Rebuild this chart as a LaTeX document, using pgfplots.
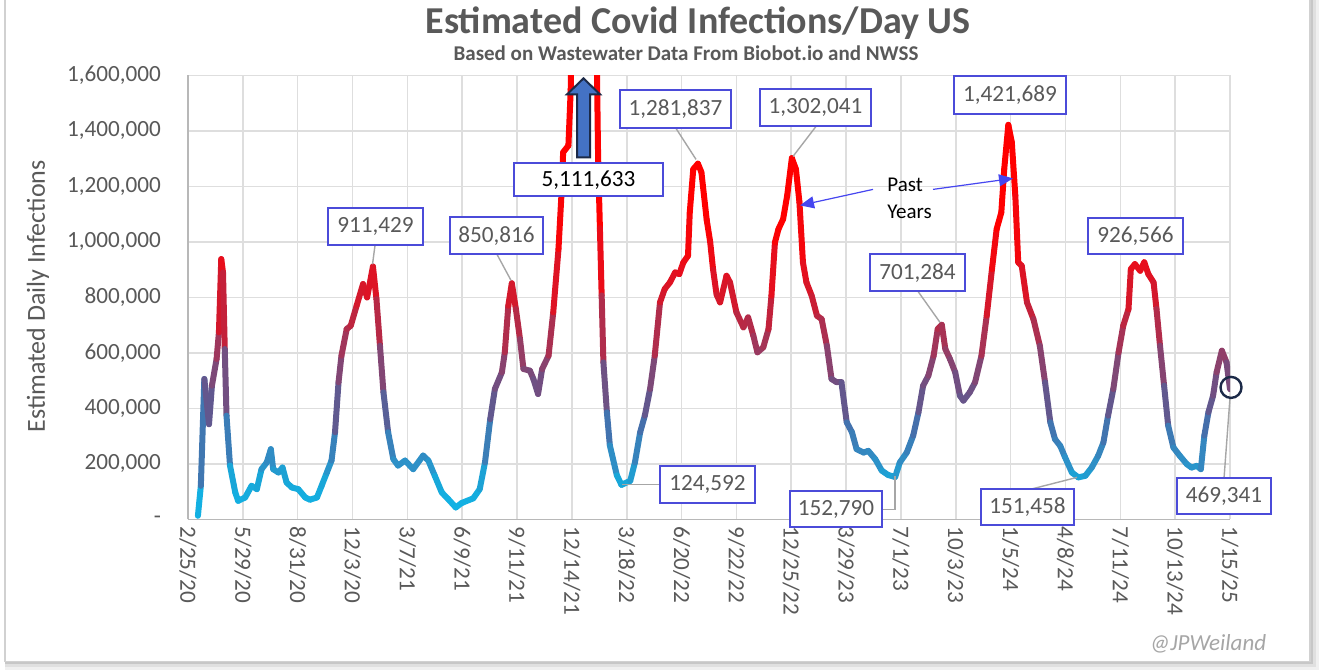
\documentclass[border=0pt]{standalone}
\usepackage{fontspec}
\setmainfont{Carlito}
\usepackage{pgfplots}
\usepackage{pgfplotstable}
\pgfplotsset{compat=1.18}
\usetikzlibrary{arrows.meta}
\definecolor{txt}{HTML}{595959}
\definecolor{boxblue}{HTML}{4B4BD9}
\definecolor{gridc}{HTML}{DEDEDE}
\definecolor{lead}{HTML}{A6A6A6}
\definecolor{arrblue}{HTML}{4646F0}
\definecolor{uparrow}{HTML}{4472C4}
\definecolor{navy}{HTML}{1C2A48}

\pgfplotstableread{
day val
17 13000
22 121000
28 506000
36 343000
41 482000
49 578000
53 674000
57 938000
60 890000
63 614000
66 374000
72 194000
81 97000
86 67000
98 79000
109 121000
118 109000
126 181000
135 205000
142 253000
146 181000
155 169000
162 187000
169 133000
178 115000
189 109000
201 79000
209 71000
221 79000
229 121000
238 169000
246 212000
252 314000
258 494000
263 590000
272 686000
279 698000
289 770000
300 848000
307 800000
317 911429
323 794000
329 626000
335 458000
343 314000
352 217000
360 194000
372 212000
386 181000
403 230000
412 212000
423 157000
435 97000
446 73000
459 43000
469 59000
489 76000
500 109000
509 205000
518 361000
526 470000
538 530000
543 602000
549 770000
555 850816
562 758000
569 650000
575 542000
586 536000
592 506000
600 452000
607 542000
618 590000
626 746000
635 974000
640 1167000
643 1323000
652 1347000
656 1550000
679 5111633
703 1290000
706 1050000
709 807000
712 566000
718 386000
723 267000
735 159000
743 124592
758 139000
766 205000
775 314000
783 374000
792 470000
800 590000
809 782000
817 830000
826 854000
835 890000
842 884000
849 926000
857 950000
860 1106000
866 1262000
874 1281837
880 1251000
889 1080000
895 1000000
900 900000
906 810000
912 782000
923 878000
929 854000
940 746000
952 692000
960 728000
969 662000
976 602000
986 620000
995 686000
1000 806000
1006 998000
1012 1046000
1020 1082000
1027 1167000
1035 1302041
1042 1262000
1048 1143000
1054 926000
1060 854000
1069 806000
1078 734000
1086 722000
1095 626000
1103 506000
1112 494000
1120 494000
1129 350000
1138 314000
1146 253000
1158 241000
1166 247000
1178 217000
1189 176000
1200 160000
1212 152790
1220 205000
1232 241000
1243 302000
1252 386000
1260 482000
1269 518000
1278 590000
1285 686000
1292 701284
1298 614000
1306 578000
1315 530000
1323 446000
1329 428000
1340 458000
1349 494000
1360 590000
1369 734000
1378 902000
1386 1046000
1394 1106000
1399 1262000
1406 1421689
1412 1359000
1418 1167000
1423 926000
1429 914000
1438 782000
1449 722000
1460 626000
1469 494000
1478 350000
1486 289000
1495 265000
1503 225000
1515 169000
1526 151458
1538 157000
1549 187000
1560 229000
1569 277000
1577 374000
1586 470000
1595 602000
1603 698000
1612 758000
1616 902000
1623 920000
1632 896000
1639 926566
1646 884000
1655 854000
1660 758000
1666 626000
1673 482000
1680 338000
1689 259000
1700 229000
1712 199000
1720 187000
1729 193000
1736 181000
1742 302000
1749 386000
1757 446000
1763 530000
1772 608000
1780 566000
1786 469341
}\covid

\newcommand{\callout}[6][txt]{%
  \draw[boxblue, line width=1pt, fill=white] (#2,#3) rectangle (#4,#5);
  \node[text=#1, font=\fontsize{11.6}{13}\selectfont, inner sep=0pt] at ({(#2+#4)/2},{(#3+#5)/2}) {#6};
}

\begin{document}
\begin{tikzpicture}
\begin{scope}[x=0.5pt,y=-0.5pt]
\useasboundingbox (0,0) rectangle (1320,670);
\fill[black!6] (5,-5) rectangle (1319,669);
\fill[black!12] (5,-5) rectangle (1316,666);
\fill[black!22] (5,-5) rectangle (1313,663);
\filldraw[fill=white, draw=black!18, line width=0.8pt] (5,-5) rectangle (1310,660);
\end{scope}

\begin{axis}[
  at={(94pt,-259pt)}, anchor=south west,
  width=521pt, height=222pt, scale only axis,
  xmin=0, xmax=1786, ymin=0, ymax=1600000,
  xtick={0,94,...,1786},
  xticklabels={2/25/20,5/29/20,8/31/20,12/3/20,3/7/21,6/9/21,9/11/21,12/14/21,3/18/22,6/20/22,9/22/22,12/25/22,3/29/23,7/1/23,10/3/23,1/5/24,4/8/24,7/11/24,10/13/24,1/15/25},
  ytick={0,200000,400000,600000,800000,1000000,1200000,1400000,1600000},
  yticklabels={{-\hspace{5pt}},{200,000},{400,000},{600,000},{800,000},{1,000,000},{1,200,000},{1,400,000},{1,600,000}},
  scaled y ticks=false,
  major tick length=0pt,
  grid=major, grid style={gridc, line width=0.8pt},
  axis x line*=bottom, axis y line*=left,
  axis line style={black!28, line width=0.8pt},
  tick label style={font=\fontsize{11.6}{13}\selectfont, text=txt},
  xticklabel style={rotate=-90, anchor=west},
  yticklabel style={xshift=-10pt},
  colormap={covid}{rgb255(0)=(15,185,235) rgb255(15)=(25,165,215) rgb255(20)=(45,145,200) rgb255(35)=(70,110,170) rgb255(40)=(95,90,145) rgb255(50)=(115,78,128) rgb255(60)=(150,60,100) rgb255(80)=(210,25,45) rgb255(90)=(230,15,30) rgb255(105)=(255,0,0)},
  point meta min=0, point meta max=1050000,
]
\addplot[mesh, line width=3pt, line cap=round, line join=round, point meta=y] table[x=day, y=val] {\covid};
\end{axis}

\begin{scope}[x=0.5pt,y=-0.5pt]
% titles
\node[anchor=base, text=txt, font=\fontsize{19}{22}\selectfont\bfseries] at (698,32) {Estimated Covid Infections/Day US};
\node[anchor=base, text=txt, font=\fontsize{10.5}{12}\selectfont\bfseries] at (686,59) {Based on Wastewater Data From Biobot.io and NWSS};
\node[rotate=90, text=txt, font=\fontsize{13}{15}\selectfont] at (38,295) {Estimated Daily Infections};
% leaders
\draw[lead, line width=0.7pt] (375,244) -- (372.5,263);
\draw[lead, line width=0.7pt] (497,253) -- (511,279);
\draw[lead, line width=0.7pt] (676,127) -- (696,158);
\draw[lead, line width=0.7pt] (816,125) -- (793,155);
\draw[lead, line width=0.7pt] (918,290) -- (940,321);
\draw[lead, line width=0.7pt] (622,483) -- (660,483);
\draw[lead, line width=0.7pt] (895,475) -- (895,508) -- (882,508);
\draw[lead, line width=0.7pt] (1030,488) -- (1077,476);
\draw[lead, line width=0.7pt] (1224,477) -- (1230,396);
\draw[navy, line width=1.2pt] (1231,386) circle (10.5);
% callouts
\callout{328}{207}{423}{244}{911,429}
\callout{450}{216}{543}{253}{850,816}
\callout[black]{514}{162}{663}{195}{5,111,633}
\callout{620}{89}{731}{127}{1,281,837}
\callout{760}{88}{871}{125}{1,302,041}
\callout{954}{75}{1066}{113}{1,421,689}
\callout{870}{253}{965}{290}{701,284}
\callout{1088}{217}{1183}{253}{926,566}
\callout{660}{465}{755}{502}{124,592}
\callout{790}{490}{882}{526}{152,790}
\callout{981}{488}{1074}{524}{151,458}
\callout{1177}{477}{1271}{513}{469,341}
% up arrow
\filldraw[fill=uparrow, draw=navy, line width=1pt] (577,156) -- (590,156) -- (590,93) -- (600,93) -- (583.5,77) -- (567,93) -- (577,93) -- cycle;
% Past years
\node[anchor=west, font=\fontsize{10.5}{12}\selectfont, text=black, inner sep=0pt] at (887,183) {Past};
\node[anchor=west, font=\fontsize{10.5}{12}\selectfont, text=black, inner sep=0pt] at (887,210) {Years};
\draw[arrblue, line width=0.6pt, -{Triangle[length=7pt, width=6pt]}] (873,188) -- (800,204);
\draw[arrblue, line width=0.6pt, -{Triangle[length=7pt, width=6pt]}] (933,188) -- (1013,177);
% watermark
\node[text=black!35, font=\fontsize{11.5}{13}\selectfont\itshape] at (1208,642) {@JPWeiland};
\end{scope}
\end{tikzpicture}
\end{document}
